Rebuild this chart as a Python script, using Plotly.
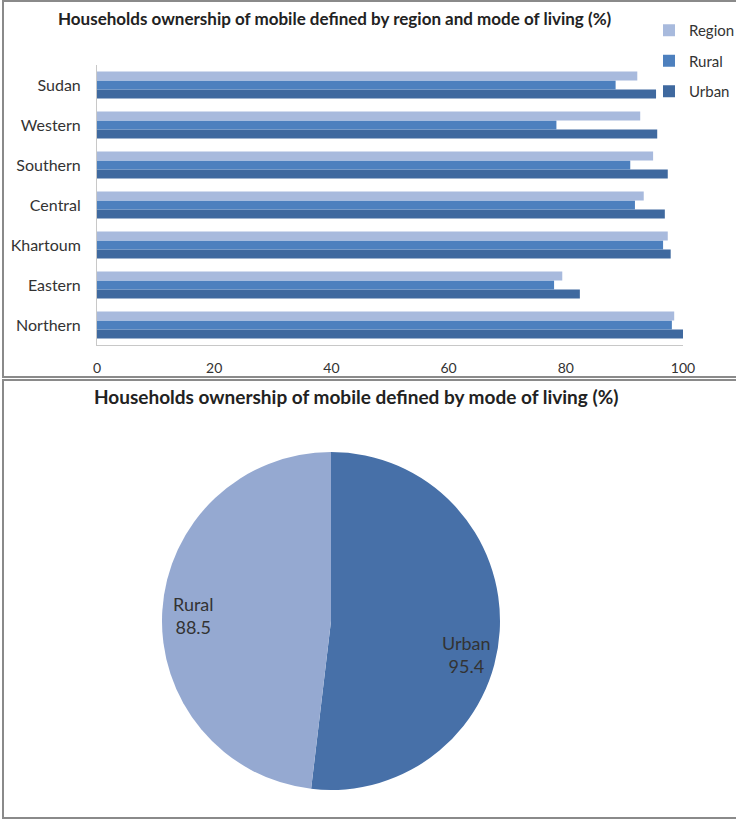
import plotly.graph_objects as go

W, H = 736, 820

# Bar chart data (%)
regions = ["Sudan", "Western", "Southern", "Central", "Khartoum", "Eastern", "Northern"]
region_vals = [92.2, 92.7, 94.9, 93.3, 97.4, 79.4, 98.5]
rural_vals = [88.5, 78.4, 91.0, 91.8, 96.6, 78.0, 98.1]
urban_vals = [95.4, 95.6, 97.4, 96.9, 97.9, 82.4, 100.0]
x_ticks = [0, 20, 40, 60, 80, 100]

# Pie chart data (%)
pie_labels = ["Urban", "Rural"]
pie_vals = [95.4, 88.5]

FONT = "Lato"
TXT = "#333333"


def px(x):
    return x / W


def py(y):
    return 1 - y / H


fig = go.Figure()

# Plotly lays grouped horizontal bars bottom-up, so add Urban first;
# legendrank puts Region at the top of the legend
bar_series = [
    ("Urban", urban_vals, "#3F699F", 3),
    ("Rural", rural_vals, "#4D80BE", 2),
    ("Region", region_vals, "#A8BADD", 1),
]
for name, vals, col, rank in bar_series:
    fig.add_trace(go.Bar(
        name=name, y=regions, x=vals, orientation="h",
        marker=dict(color=col, line=dict(width=0)),
        legendgroup=name, legendrank=rank, xaxis="x", yaxis="y",
        hoverinfo="x+name",
    ))

fig.add_trace(go.Pie(
    labels=pie_labels, values=pie_vals, sort=False, direction="clockwise",
    rotation=0, marker=dict(colors=["#4770A8", "#95A9D1"], line=dict(width=0)),
    textinfo="none", showlegend=False, hole=0,
    domain=dict(x=[px(331 - 169), px(331 + 169)], y=[py(621 + 169), py(621 - 169)]),
))

# Pie value labels, built from the same data
pie_label_pos = {"Rural": (193, 615), "Urban": (466, 654)}
annotations = []
for lab, val in zip(pie_labels, pie_vals):
    x0, y0 = pie_label_pos[lab]
    annotations.append(dict(
        text=f"{lab}<br>{val:.1f}", x=px(x0), y=py(y0), xref="paper", yref="paper",
        xanchor="center", yanchor="middle", showarrow=False, align="center",
        font=dict(family=FONT, size=18, color=TXT),
    ))

annotations.append(dict(
    text="<b>Households ownership of mobile defined by region and mode of living (%)</b>",
    x=px(335), y=py(18), xref="paper", yref="paper", xanchor="center", yanchor="middle",
    showarrow=False, font=dict(family=FONT, size=17, color="#222222"),
))
annotations.append(dict(
    text="<b>Households ownership of mobile defined by mode of living (%)</b>",
    x=px(356), y=py(396), xref="paper", yref="paper", xanchor="center", yanchor="middle",
    showarrow=False, font=dict(family=FONT, size=19, color="#222222"),
))

shapes = [
    # panel frames
    dict(type="rect", xref="paper", yref="paper", x0=px(3), x1=px(745), y0=py(1), y1=py(377),
         line=dict(color="#8a8a8a", width=2), fillcolor="rgba(0,0,0,0)", layer="below"),
    dict(type="rect", xref="paper", yref="paper", x0=px(3), x1=px(745), y0=py(380), y1=py(818),
         line=dict(color="#8a8a8a", width=2), fillcolor="rgba(0,0,0,0)", layer="below"),
]

fig.update_layout(
    width=W, height=H, margin=dict(l=0, r=0, t=0, b=0, autoexpand=False),
    paper_bgcolor="white", plot_bgcolor="white",
    barmode="group", bargap=0.32, bargroupgap=0,
    font=dict(family=FONT, color=TXT),
    xaxis=dict(
        domain=[px(97), px(683)], range=[0, 100], tickvals=x_ticks,
        showgrid=False, zeroline=False, showline=True, linecolor="#c8c8c8", linewidth=1,
        ticks="", tickfont=dict(family=FONT, size=14, color=TXT), ticklabelstandoff=10,
        anchor="y", fixedrange=True, automargin=False,
    ),
    yaxis=dict(
        domain=[py(345), py(65)], categoryorder="array", categoryarray=regions[::-1],
        showgrid=False, zeroline=False, showline=True, linecolor="#c8c8c8", linewidth=1,
        ticks="", tickfont=dict(family=FONT, size=16, color=TXT), ticklabelstandoff=12,
        anchor="x", fixedrange=True, automargin=False,
    ),
    legend=dict(
        x=px(649), y=py(14), xanchor="left", yanchor="top",
        traceorder="grouped", tracegroupgap=8,
        font=dict(family=FONT, size=15, color=TXT), bgcolor="rgba(0,0,0,0)",
        itemwidth=30,
    ),
    annotations=annotations, shapes=shapes,
)

fig.write_html("out.html")
